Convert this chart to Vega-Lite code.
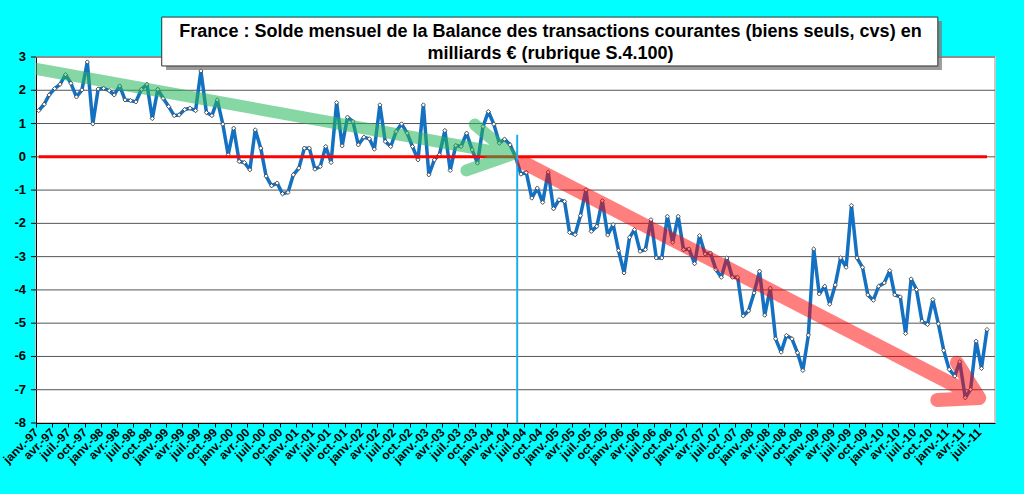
{
  "$schema": "https://vega.github.io/schema/vega-lite/v6.json",
  "width": 959,
  "height": 366,
  "autosize": "none",
  "padding": {"left": 36, "top": 57, "right": 29, "bottom": 71},
  "background": "#00ffff",
  "title": {
    "text": ["France : Solde mensuel de la Balance des transactions courantes (biens seuls, cvs) en", "milliards € (rubrique S.4.100)"],
    "font": "Liberation Sans",
    "fontSize": 18,
    "fontWeight": "bold",
    "color": "black",
    "anchor": "middle",
    "dx": 35,
    "lineHeight": 21.5,
    "offset": -46
  },
  "datasets": {
    "graduations": [
      {"g": -8}, {"g": -7}, {"g": -6}, {"g": -5}, {"g": -4}, {"g": -3},
      {"g": -2}, {"g": -1}, {"g": 0}, {"g": 1}, {"g": 2}, {"g": 3}
    ],
    "solde": [
      {"d": "1997-01-16", "v": 1.39}, {"d": "1997-02-16", "v": 1.58}, {"d": "1997-03-16", "v": 1.86}, {"d": "1997-04-16", "v": 2.05},
      {"d": "1997-05-16", "v": 2.18}, {"d": "1997-06-16", "v": 2.47}, {"d": "1997-07-16", "v": 2.21}, {"d": "1997-08-16", "v": 1.80},
      {"d": "1997-09-16", "v": 2.01}, {"d": "1997-10-16", "v": 2.85}, {"d": "1997-11-16", "v": 0.99}, {"d": "1997-12-16", "v": 2.04},
      {"d": "1998-01-16", "v": 2.06}, {"d": "1998-02-16", "v": 1.99}, {"d": "1998-03-16", "v": 1.86}, {"d": "1998-04-16", "v": 2.13},
      {"d": "1998-05-16", "v": 1.71}, {"d": "1998-06-16", "v": 1.69}, {"d": "1998-07-16", "v": 1.65}, {"d": "1998-08-16", "v": 2.03},
      {"d": "1998-09-16", "v": 2.18}, {"d": "1998-10-16", "v": 1.15}, {"d": "1998-11-16", "v": 2.03}, {"d": "1998-12-16", "v": 1.76},
      {"d": "1999-01-16", "v": 1.51}, {"d": "1999-02-16", "v": 1.24}, {"d": "1999-03-16", "v": 1.26}, {"d": "1999-04-16", "v": 1.42},
      {"d": "1999-05-16", "v": 1.46}, {"d": "1999-06-16", "v": 1.39}, {"d": "1999-07-16", "v": 2.58}, {"d": "1999-08-16", "v": 1.33},
      {"d": "1999-09-16", "v": 1.24}, {"d": "1999-10-16", "v": 1.71}, {"d": "1999-11-16", "v": 0.98}, {"d": "1999-12-16", "v": 0.06},
      {"d": "2000-01-16", "v": 0.86}, {"d": "2000-02-16", "v": -0.14}, {"d": "2000-03-16", "v": -0.17}, {"d": "2000-04-16", "v": -0.39},
      {"d": "2000-05-16", "v": 0.81}, {"d": "2000-06-16", "v": 0.26}, {"d": "2000-07-16", "v": -0.58}, {"d": "2000-08-16", "v": -0.87},
      {"d": "2000-09-16", "v": -0.79}, {"d": "2000-10-16", "v": -1.11}, {"d": "2000-11-16", "v": -1.07}, {"d": "2000-12-16", "v": -0.54},
      {"d": "2001-01-16", "v": -0.34}, {"d": "2001-02-16", "v": 0.26}, {"d": "2001-03-16", "v": 0.26}, {"d": "2001-04-16", "v": -0.37},
      {"d": "2001-05-16", "v": -0.29}, {"d": "2001-06-16", "v": 0.31}, {"d": "2001-07-16", "v": -0.17}, {"d": "2001-08-16", "v": 1.63},
      {"d": "2001-09-16", "v": 0.33}, {"d": "2001-10-16", "v": 1.19}, {"d": "2001-11-16", "v": 1.06}, {"d": "2001-12-16", "v": 0.36},
      {"d": "2002-01-16", "v": 0.59}, {"d": "2002-02-16", "v": 0.54}, {"d": "2002-03-16", "v": 0.23}, {"d": "2002-04-16", "v": 1.56},
      {"d": "2002-05-16", "v": 0.46}, {"d": "2002-06-16", "v": 0.31}, {"d": "2002-07-16", "v": 0.76}, {"d": "2002-08-16", "v": 0.99},
      {"d": "2002-09-16", "v": 0.71}, {"d": "2002-10-16", "v": 0.31}, {"d": "2002-11-16", "v": -0.09}, {"d": "2002-12-16", "v": 1.56},
      {"d": "2003-01-16", "v": -0.54}, {"d": "2003-02-16", "v": -0.09}, {"d": "2003-03-16", "v": 0.06}, {"d": "2003-04-16", "v": 0.79},
      {"d": "2003-05-16", "v": -0.41}, {"d": "2003-06-16", "v": 0.34}, {"d": "2003-07-16", "v": 0.31}, {"d": "2003-08-16", "v": 0.71},
      {"d": "2003-09-16", "v": 0.21}, {"d": "2003-10-16", "v": -0.19}, {"d": "2003-11-16", "v": 0.91}, {"d": "2003-12-16", "v": 1.36},
      {"d": "2004-01-16", "v": 0.98}, {"d": "2004-02-16", "v": 0.41}, {"d": "2004-03-16", "v": 0.53}, {"d": "2004-04-16", "v": 0.36},
      {"d": "2004-05-16", "v": 0.01}, {"d": "2004-06-16", "v": -0.52}, {"d": "2004-07-16", "v": -0.47}, {"d": "2004-08-16", "v": -1.24},
      {"d": "2004-09-16", "v": -0.94}, {"d": "2004-10-16", "v": -1.37}, {"d": "2004-11-16", "v": -0.46}, {"d": "2004-12-16", "v": -1.56},
      {"d": "2005-01-16", "v": -1.29}, {"d": "2005-02-16", "v": -1.34}, {"d": "2005-03-16", "v": -2.27}, {"d": "2005-04-16", "v": -2.34},
      {"d": "2005-05-16", "v": -1.77}, {"d": "2005-06-16", "v": -0.99}, {"d": "2005-07-16", "v": -2.24}, {"d": "2005-08-16", "v": -2.09},
      {"d": "2005-09-16", "v": -1.32}, {"d": "2005-10-16", "v": -2.35}, {"d": "2005-11-16", "v": -2.04}, {"d": "2005-12-16", "v": -2.82},
      {"d": "2006-01-16", "v": -3.49}, {"d": "2006-02-16", "v": -2.42}, {"d": "2006-03-16", "v": -2.19}, {"d": "2006-04-16", "v": -2.84},
      {"d": "2006-05-16", "v": -2.79}, {"d": "2006-06-16", "v": -1.89}, {"d": "2006-07-16", "v": -3.04}, {"d": "2006-08-16", "v": -3.04},
      {"d": "2006-09-16", "v": -1.79}, {"d": "2006-10-16", "v": -2.57}, {"d": "2006-11-16", "v": -1.79}, {"d": "2006-12-16", "v": -2.79},
      {"d": "2007-01-16", "v": -2.77}, {"d": "2007-02-16", "v": -3.21}, {"d": "2007-03-16", "v": -2.37}, {"d": "2007-04-16", "v": -2.92},
      {"d": "2007-05-16", "v": -2.89}, {"d": "2007-06-16", "v": -3.39}, {"d": "2007-07-16", "v": -3.62}, {"d": "2007-08-16", "v": -3.04},
      {"d": "2007-09-16", "v": -3.62}, {"d": "2007-10-16", "v": -3.62}, {"d": "2007-11-16", "v": -4.78}, {"d": "2007-12-16", "v": -4.63},
      {"d": "2008-01-16", "v": -4.09}, {"d": "2008-02-16", "v": -3.44}, {"d": "2008-03-16", "v": -4.76}, {"d": "2008-04-16", "v": -3.95},
      {"d": "2008-05-16", "v": -5.47}, {"d": "2008-06-16", "v": -5.87}, {"d": "2008-07-16", "v": -5.37}, {"d": "2008-08-16", "v": -5.47},
      {"d": "2008-09-16", "v": -5.89}, {"d": "2008-10-16", "v": -6.42}, {"d": "2008-11-16", "v": -5.36}, {"d": "2008-12-16", "v": -2.77},
      {"d": "2009-01-16", "v": -4.12}, {"d": "2009-02-16", "v": -3.89}, {"d": "2009-03-16", "v": -4.43}, {"d": "2009-04-16", "v": -3.85},
      {"d": "2009-05-16", "v": -3.04}, {"d": "2009-06-16", "v": -3.32}, {"d": "2009-07-16", "v": -1.46}, {"d": "2009-08-16", "v": -3.04},
      {"d": "2009-09-16", "v": -3.32}, {"d": "2009-10-16", "v": -4.15}, {"d": "2009-11-16", "v": -4.31}, {"d": "2009-12-16", "v": -3.89},
      {"d": "2010-01-16", "v": -3.79}, {"d": "2010-02-16", "v": -3.42}, {"d": "2010-03-16", "v": -4.15}, {"d": "2010-04-16", "v": -4.21},
      {"d": "2010-05-16", "v": -5.31}, {"d": "2010-06-16", "v": -3.67}, {"d": "2010-07-16", "v": -3.99}, {"d": "2010-08-16", "v": -4.94},
      {"d": "2010-09-16", "v": -5.04}, {"d": "2010-10-16", "v": -4.29}, {"d": "2010-11-16", "v": -5.02}, {"d": "2010-12-16", "v": -5.82},
      {"d": "2011-01-16", "v": -6.39}, {"d": "2011-02-16", "v": -6.59}, {"d": "2011-03-16", "v": -6.16}, {"d": "2011-04-16", "v": -7.24},
      {"d": "2011-05-16", "v": -6.99}, {"d": "2011-06-16", "v": -5.54}, {"d": "2011-07-16", "v": -6.36}, {"d": "2011-08-16", "v": -5.19}
    ],
    "fleche_verte": [
      {"o": 1, "d": "1996-11-06", "v": 2.70},
      {"o": 2, "d": "2004-04-20", "v": 0.06},
      {"o": 3, "d": "2003-10-01", "v": 0.97},
      {"o": 4, "d": "2004-04-20", "v": 0.06},
      {"o": 5, "d": "2003-08-15", "v": -0.41}
    ],
    "fleche_rouge": [
      {"o": 1, "d": "2004-07-02", "v": -0.18},
      {"o": 2, "d": "2011-07-03", "v": -7.25},
      {"o": 3, "d": "2011-02-28", "v": -6.19},
      {"o": 4, "d": "2011-07-03", "v": -7.25},
      {"o": 5, "d": "2010-11-10", "v": -7.31}
    ]
  },
  "layer": [
    {
      "data": {"name": "graduations"},
      "transform": [{"filter": "datum.g > -8"}],
      "mark": {"type": "rule", "color": "#555555", "strokeWidth": 1},
      "encoding": {
        "y": {"field": "g", "type": "quantitative", "title": null}
      }
    },
    {
      "data": {"name": "graduations"},
      "mark": {"type": "rule", "color": "black", "strokeWidth": 1, "xOffset": -5},
      "encoding": {
        "x": {"datum": {"year": 1997, "month": 1, "date": 1}, "type": "temporal", "title": null},
        "x2": {"datum": {"year": 1997, "month": 1, "date": 1}},
        "y": {"field": "g", "type": "quantitative", "title": null}
      }
    },
    {
      "data": {"name": "graduations"},
      "mark": {"type": "text", "align": "right", "baseline": "middle", "dx": -10, "font": "Liberation Sans", "fontSize": 13, "fontWeight": "bold", "color": "black"},
      "encoding": {
        "x": {"datum": {"year": 1997, "month": 1, "date": 1}, "type": "temporal", "title": null},
        "y": {"field": "g", "type": "quantitative", "title": null},
        "text": {"field": "g", "type": "nominal"}
      }
    },
    {
      "data": {"name": "solde"},
      "mark": {"type": "line", "color": "#1470c0", "strokeWidth": 3.5, "strokeJoin": "round"},
      "encoding": {
        "x": {
          "field": "d", "type": "temporal", "title": null,
          "scale": {"domain": [{"year": 1997, "month": 1, "date": 1}, {"year": 2011, "month": 9, "date": 30}]}
        },
        "y": {
          "field": "v", "type": "quantitative", "title": null,
          "scale": {"domain": [-8, 3], "nice": false, "zero": false}
        }
      }
    },
    {
      "data": {"name": "solde"},
      "mark": {"type": "point", "shape": "diamond", "filled": true, "fill": "white", "stroke": "#3a3a3a", "strokeWidth": 0.8, "size": 18, "opacity": 1},
      "encoding": {
        "x": {"field": "d", "type": "temporal", "title": null},
        "y": {"field": "v", "type": "quantitative", "title": null}
      }
    },
    {
      "data": {"name": "solde"},
      "mark": {"type": "line", "color": "#ff0000", "strokeWidth": 3},
      "encoding": {
        "x": {"field": "d", "type": "temporal", "title": null},
        "y": {"datum": 0, "type": "quantitative", "title": null}
      }
    },
    {
      "data": {"values": [{}]},
      "mark": {"type": "rule", "color": "#1ab0f0", "strokeWidth": 2},
      "encoding": {
        "x": {"datum": {"year": 2004, "month": 5, "date": 26}, "type": "temporal", "title": null},
        "y": {"datum": 0.66, "type": "quantitative", "title": null},
        "y2": {"datum": -8}
      }
    },
    {
      "data": {"name": "fleche_verte"},
      "mark": {"type": "line", "color": "#25b65b", "opacity": 0.55, "strokeWidth": 12, "strokeCap": "round", "strokeJoin": "round", "clip": true},
      "encoding": {
        "x": {"field": "d", "type": "temporal", "title": null},
        "y": {"field": "v", "type": "quantitative", "title": null},
        "order": {"field": "o", "type": "quantitative"}
      }
    },
    {
      "data": {"name": "fleche_rouge"},
      "mark": {"type": "line", "color": "#ff0000", "opacity": 0.5, "strokeWidth": 14, "strokeCap": "round", "strokeJoin": "round", "clip": true},
      "encoding": {
        "x": {"field": "d", "type": "temporal", "title": null},
        "y": {"field": "v", "type": "quantitative", "title": null},
        "order": {"field": "o", "type": "quantitative"}
      }
    },
    {
      "data": {"values": [{}]},
      "mark": {"type": "rect", "fill": "#7a7a7a", "opacity": 0.75, "clip": false},
      "encoding": {
        "x": {"datum": {"year": 1999, "month": 1, "date": 1}, "type": "temporal", "title": null},
        "x2": {"datum": {"year": 2010, "month": 12, "date": 6}},
        "y": {"datum": 4.08, "type": "quantitative", "title": null},
        "y2": {"datum": 2.61}
      }
    },
    {
      "data": {"values": [{}]},
      "mark": {"type": "rect", "fill": "white", "stroke": "#303030", "strokeWidth": 1, "clip": false},
      "encoding": {
        "x": {"datum": {"year": 1998, "month": 12, "date": 8}, "type": "temporal", "title": null},
        "x2": {"datum": {"year": 2010, "month": 11, "date": 13}},
        "y": {"datum": 4.2, "type": "quantitative", "title": null},
        "y2": {"datum": 2.73}
      }
    }
  ],
  "config": {
    "view": {"fill": "white", "stroke": "#c8c8c8", "strokeWidth": 2},
    "font": "Liberation Sans",
    "axisX": {
      "grid": false,
      "domainColor": "black", "tickColor": "black", "tickSize": 4,
      "tickCount": {"interval": "month", "step": 3},
      "labelExpr": "['janv.','févr.','mars','avr.','mai','juin','juil.','août','sept.','oct.','nov.','déc.'][month(datum.value)] + '-' + timeFormat(datum.value, '%y')",
      "labelAngle": -45, "labelAlign": "right", "labelBaseline": "middle",
      "labelFont": "Liberation Sans", "labelFontSize": 12, "labelFontWeight": "bold", "labelColor": "black",
      "labelPadding": 3, "labelOverlap": false, "labelFlush": false, "labelBound": false
    },
    "axisY": {
      "grid": false, "ticks": false, "labels": false,
      "domainColor": "black"
    }
  }
}
